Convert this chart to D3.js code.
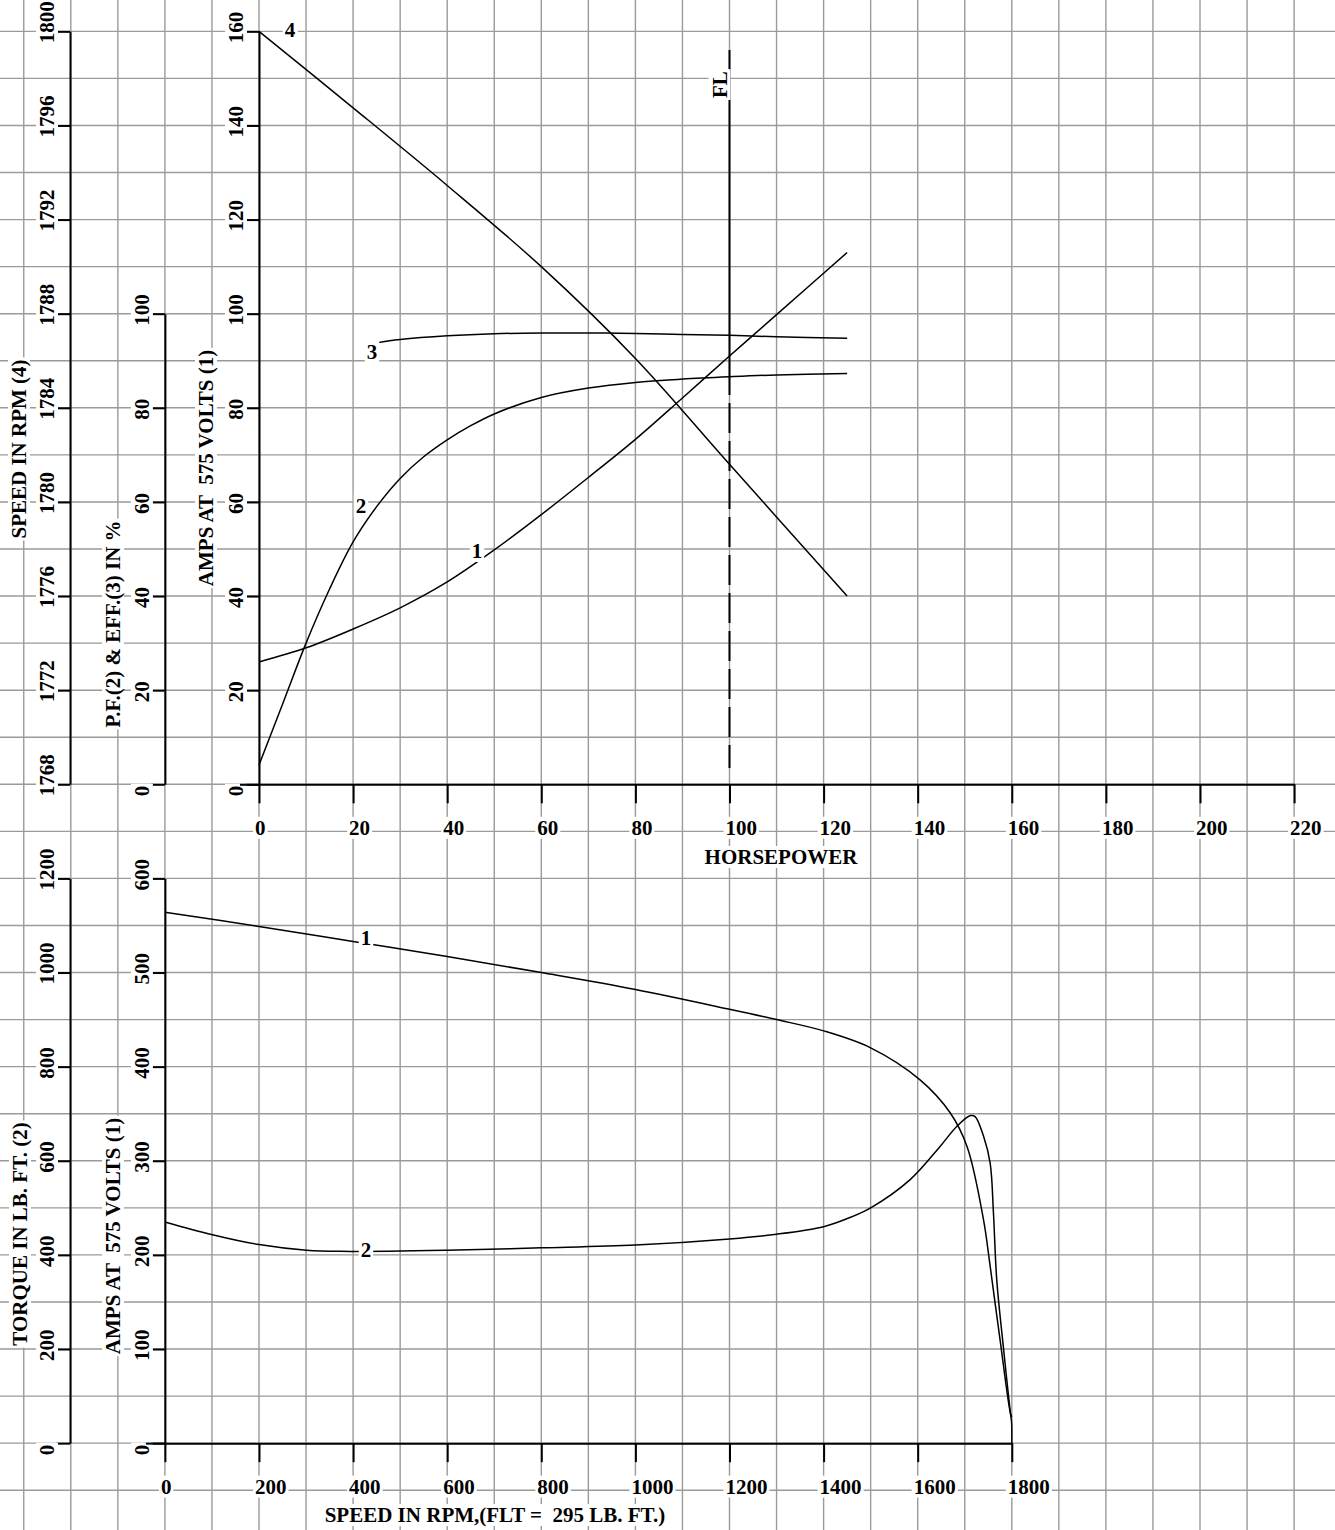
<!DOCTYPE html>
<html>
<head>
<meta charset="utf-8">
<script src="https://cdn.jsdelivr.net/npm/d3@7"></script>
<style>
  body { margin: 0; background: #fff; }
  text { font-family: "Liberation Serif", "Times New Roman", serif; font-weight: bold; font-size: 21px; fill: #000; white-space: pre; }
</style>
</head>
<body>
<div id="chart"></div>
<script>
// ---- tick values
var hpTicks = [0, 20, 40, 60, 80, 100, 120, 140, 160, 180, 200, 220];
var ampTicksTop = [0, 20, 40, 60, 80, 100, 120, 140, 160];
var pfTicks = [0, 20, 40, 60, 80, 100];
var rpmTicks = [1768, 1772, 1776, 1780, 1784, 1788, 1792, 1796, 1800];
var speedTicks = [0, 200, 400, 600, 800, 1000, 1200, 1400, 1600, 1800];
var torqueTicks = [0, 200, 400, 600, 800, 1000, 1200];
var ampTicksBottom = [0, 100, 200, 300, 400, 500, 600];

// ---- top chart: performance vs horsepower
var ampsHP   = [0, 10, 20, 30, 40, 50, 60, 70, 80, 90, 100, 110, 125];
var ampsTop  = [26, 29, 33, 37.5, 43, 49.8, 57.3, 65.2, 73.3, 82.1, 91, 99.8, 113];
var pfHP     = [0, 5, 10, 15, 20, 25, 30, 35, 40, 45, 50, 60, 70, 80, 90, 100, 110, 125];
var pfValues = [4.1, 17, 30, 41.5, 51.5, 59, 65, 69.6, 73.2, 76.2, 78.7, 82.2, 84.2, 85.4, 86.1, 86.6, 87, 87.3];
var effHP    = [24.9, 30, 40, 50, 60, 70, 80, 90, 100, 110, 125];
var effValues = [93.8, 94.5, 95.3, 95.75, 95.9, 95.9, 95.8, 95.6, 95.4, 95.1, 94.8];
var rpmHP    = [0, 20, 40, 60, 80, 100, 125];
var rpmValues = [1800, 1796.75, 1793.45, 1790, 1786.1, 1781.6, 1776];
var fullLoadHP = 100;

// ---- bottom chart: speed-torque / speed-current
var ampsRpm    = [0, 200, 400, 600, 800, 1000, 1200, 1300, 1400, 1500, 1605, 1669, 1705, 1740, 1754, 1775, 1797, 1800];
var ampsBottom = [564, 549, 533, 517, 500, 482, 461, 450, 438, 420, 386, 351, 315, 237, 188, 110, 32, 28];
var torqueRpm    = [0, 101, 200, 301, 373, 600, 800, 1000, 1200, 1300, 1400, 1450, 1500, 1584, 1648, 1683, 1712, 1722, 1740, 1754, 1761, 1768, 1782, 1797, 1799.5, 1800];
var torqueValues = [470, 443, 422, 410, 407.5, 410, 415, 421, 434, 444, 460, 477, 500, 560, 631, 673, 696, 694, 652, 595, 489, 347, 205, 64, 45, 0];

var W = 1335, H = 1530, G = 47.05, GY = 47.06;

var svg = d3.select("#chart").append("svg")
    .attr("width", W).attr("height", H)
    .style("display", "block").style("background", "#fff");

// scales
var xHP = d3.scaleLinear().domain([0, 220]).range([259, 259 + 22 * G]);
var yAmpTop = d3.scaleLinear().domain([0, 160]).range([784.3, 784.3 - 16 * GY]);
var yPF = d3.scaleLinear().domain([0, 100]).range([784.3, 784.3 - 10 * GY]);
var yRPM = d3.scaleLinear().domain([1768, 1800]).range([784.3, 784.3 - 16 * GY]);

var xSpd = d3.scaleLinear().domain([0, 1800]).range([259 - 2 * G, 259 + 16 * G]);
var y0b = 784.3 + 14 * GY;
var yAmpBot = d3.scaleLinear().domain([0, 600]).range([y0b, y0b - 12 * GY]);
var yTrq = d3.scaleLinear().domain([0, 1200]).range([y0b, y0b - 12 * GY]);

// ---- background grid (10 hp / 10 A spacing)
var gridX = d3.range(-50, 221, 10);
var gridY = d3.range(-150, 161, 10);
svg.append("g").selectAll("line").data(gridX).enter().append("line")
    .attr("x1", function(d) { return xHP(d); }).attr("x2", function(d) { return xHP(d); })
    .attr("y1", 0).attr("y2", H)
    .attr("stroke", "#9a9a9a").attr("stroke-width", 1.4);
svg.append("g").selectAll("line").data(gridY).enter().append("line")
    .attr("y1", function(d) { return yAmpTop(d); }).attr("y2", function(d) { return yAmpTop(d); })
    .attr("x1", 0).attr("x2", W)
    .attr("stroke", "#9a9a9a").attr("stroke-width", 1.4);

// text with a white box behind it
function label(parent, str, tf, anchor, fs) {
    var g = parent.append("g").attr("transform", tf);
    var r = g.append("rect").attr("fill", "#fff");
    var t = g.append("text").attr("text-anchor", anchor || "start").text(str);
    if (fs) t.style("font-size", fs + "px");
    var b = t.node().getBBox();
    r.attr("x", b.x - 2).attr("y", b.y + 1).attr("width", b.width + 4).attr("height", b.height - 2);
    return g;
}

// vertical axis with rotated labels
function leftAxis(scale, ticks, xpos) {
    var g = svg.append("g").attr("transform", "translate(" + xpos + ",0)");
    g.call(d3.axisLeft(scale).tickValues(ticks).tickSizeInner(14).tickSizeOuter(0).tickFormat(""));
    g.selectAll("path, line").attr("stroke", "#000").attr("stroke-width", 2);
    ticks.forEach(function(v) {
        label(g, String(v), "translate(-16," + (scale(v) + 12) + ") rotate(-90)", "start");
    });
    return g;
}

function bottomAxis(scale, ticks, ypos) {
    var g = svg.append("g").attr("transform", "translate(0," + ypos + ")");
    g.call(d3.axisBottom(scale).tickValues(ticks).tickSizeInner(19).tickSizeOuter(0).tickFormat(""));
    g.selectAll("path, line").attr("stroke", "#000").attr("stroke-width", 2);
    g.append("line").attr("x1", scale.range()[0] - 19).attr("x2", scale.range()[0])
        .attr("y1", 0.5).attr("y2", 0.5).attr("stroke", "#000").attr("stroke-width", 2);
    ticks.forEach(function(v) {
        label(g, String(v), "translate(" + (scale(v) - 4) + ",50.5)", "start");
    });
    return g;
}

// ---- top chart axes
leftAxis(yRPM, rpmTicks, 70);
leftAxis(yPF, pfTicks, xHP(-20));
leftAxis(yAmpTop, ampTicksTop, xHP(0));
bottomAxis(xHP, hpTicks, yAmpTop(0));

label(svg, "SPEED IN RPM (4)", "translate(26,449) rotate(-90)", "middle");
label(svg, "P.F.(2) & EFF.(3) IN %", "translate(120,624) rotate(-90)", "middle");
label(svg, "AMPS AT  575 VOLTS (1)", "translate(213,468) rotate(-90)", "middle");
label(svg, "HORSEPOWER", "translate(781,864)", "middle");

// full load marker
svg.append("line")
    .attr("x1", xHP(fullLoadHP)).attr("x2", xHP(fullLoadHP))
    .attr("y1", 50).attr("y2", 768)
    .attr("stroke", "#000").attr("stroke-width", 2)
    .attr("stroke-dasharray", "345,8,30,8,30,8,30,8,30,8,30,8,30,8,30,8,30,8,30,8,30,8");
label(svg, "FL", "translate(" + (xHP(fullLoadHP) - 3) + ",98) rotate(-90)", "start");

// curves
function curve(xs, ys, xsc, ysc) {
    var pts = xs.map(function(d, i) { return [d, ys[i]]; });
    svg.append("path").datum(pts)
        .attr("fill", "none").attr("stroke", "#000").attr("stroke-width", 1.5)
        .attr("d", d3.line().curve(d3.curveCatmullRom.alpha(0.5))
            .x(function(d) { return xsc(d[0]); })
            .y(function(d) { return ysc(d[1]); }));
}
curve(rpmHP, rpmValues, xHP, yRPM);
curve(ampsHP, ampsTop, xHP, yAmpTop);
curve(pfHP, pfValues, xHP, yPF);
curve(effHP, effValues, xHP, yPF);

label(svg, "4", "translate(290,37)", "middle");
label(svg, "3", "translate(372,359)", "middle");
label(svg, "2", "translate(361,513)", "middle");
label(svg, "1", "translate(477,558)", "middle");

// ---- bottom chart axes
leftAxis(yTrq, torqueTicks, 70);
leftAxis(yAmpBot, ampTicksBottom, xSpd(0));
bottomAxis(xSpd, speedTicks, y0b);

label(svg, "TORQUE IN LB. FT. (2)", "translate(27,1234) rotate(-90)", "middle");
label(svg, "AMPS AT  575 VOLTS (1)", "translate(120,1236) rotate(-90)", "middle");
label(svg, "SPEED IN RPM,(FLT =  295 LB. FT.)", "translate(495,1522)", "middle");

curve(ampsRpm, ampsBottom, xSpd, yAmpBot);
curve(torqueRpm, torqueValues, xSpd, yTrq);

label(svg, "1", "translate(366,945)", "middle");
label(svg, "2", "translate(366,1257)", "middle");
</script>
</body>
</html>
